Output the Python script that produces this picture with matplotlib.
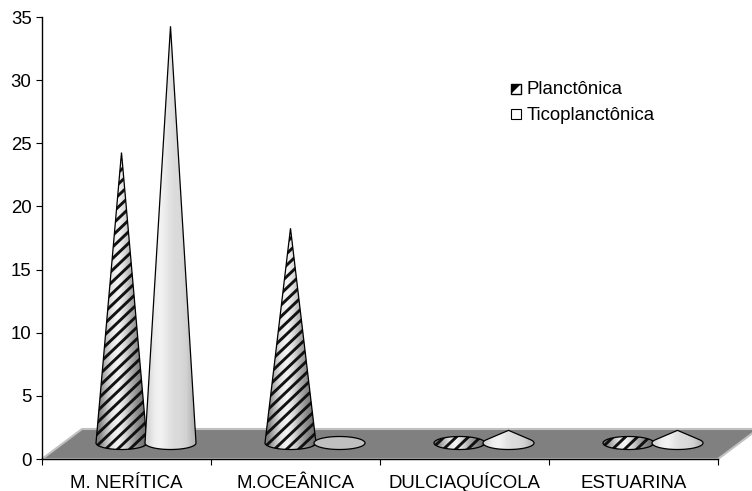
import numpy as np
import matplotlib
matplotlib.use('Agg')
import matplotlib.pyplot as plt
from matplotlib.patches import Polygon, Rectangle

plt.rcParams['font.family'] = ['Liberation Sans', 'DejaVu Sans']

categories = ['M. NERÍTICA', 'M.OCEÂNICA', 'DULCIAQUÍCOLA', 'ESTUARINA']
planctonica = [23, 17, 0, 0]
ticoplanctonica = [33, 0, 1, 1]
yticks = [0, 5, 10, 15, 20, 25, 30, 35]

# pixel layout of the plot area
W, H = 752, 491
LEFT, RIGHT, TOP, BOTTOM = 42, 718, 17, 459
XU = (RIGHT - LEFT) / 4
YU = (BOTTOM - TOP) / 35
DEPTH_X, DEPTH_Y = 40 / XU, 30 / YU
BASE_X, BASE_Y = 19.5 / XU, 16 / YU
CONE_SHIFT = 24.5 / XU
RX, RY = 25.5 / XU, 6.5 / YU

shade_plan = [0.5, 0.72, 0.9, 0.96, 0.85, 0.68, 0.55, 0.45]
shade_tico = [0.84, 0.93, 0.95, 0.9, 0.86, 0.85, 0.82, 0.72]

fig = plt.figure(figsize=(W / 100, H / 100), dpi=100)
ax = fig.add_axes([LEFT / W, 1 - BOTTOM / H, (RIGHT - LEFT) / W, (BOTTOM - TOP) / H])


def cone_outline(cx, cy, height):
    t = np.linspace(0, 2 * np.pi, 120)
    if height <= RY:
        return np.column_stack([cx + RX * np.cos(t), cy + RY * np.sin(t)])
    # tangent points from the apex on to the base ellipse
    s = RY / height
    start = np.arcsin(s)
    t = np.linspace(start, -np.pi - start, 80)
    pts = np.column_stack([cx + RX * np.cos(t), cy + RY * np.sin(t)])
    return np.vstack([[cx, cy + height], pts])


def draw_cone(cx, cy, value, shade, striped, z):
    pts = cone_outline(cx, cy, value)
    edge = Polygon(pts, closed=True, facecolor='none', edgecolor='black', lw=0.9, zorder=z + 0.2)
    ax.add_patch(edge)
    im = ax.imshow([shade], cmap='gray', vmin=0, vmax=1, aspect='auto', interpolation='bilinear',
                   extent=[cx - RX, cx + RX, cy - RY, cy + max(value, RY)], zorder=z)
    im.set_clip_path(edge)
    if striped:
        # diagonal black stripes, rising to the right
        spacing_px = 11.5
        top_px = max(value, RY) * YU + 10
        for off in np.arange(-60, top_px + 60, spacing_px):
            xs = np.array([-40, 40]) / XU
            ys = (off + np.array([-40, 40]) * 0.95) / YU
            ln, = ax.plot(cx + xs, cy + ys, color='#111111', lw=2.1, zorder=z + 0.1, solid_capstyle='butt')
            ln.set_clip_path(edge)


# floor of the 3D chart, it sticks out past the plot area on the right
floor = Polygon([[0, 0], [4, 0], [4 + DEPTH_X, DEPTH_Y], [DEPTH_X, DEPTH_Y]], closed=True,
                facecolor='#808080', edgecolor='#c0c0c0', lw=1.5, clip_on=False, zorder=1)
ax.add_patch(floor)

for i in range(len(categories)):
    cx = i + 0.5 + BASE_X
    draw_cone(cx - CONE_SHIFT, BASE_Y, planctonica[i], shade_plan, True, 3 + i)
    if ticoplanctonica[i] == 0:
        ax.add_patch(Polygon(cone_outline(cx + CONE_SHIFT, BASE_Y, 0), closed=True,
                             facecolor='#c0c0c0', edgecolor='black', lw=0.9, zorder=3.5 + i))
    else:
        draw_cone(cx + CONE_SHIFT, BASE_Y, ticoplanctonica[i], shade_tico, False, 3.5 + i)

ax.set_xlim(0, 4)
ax.set_ylim(0, 35)
ax.patch.set_visible(False)
for s in ['top', 'right']:
    ax.spines[s].set_visible(False)
for s in ['left', 'bottom']:
    ax.spines[s].set_linewidth(1.0)
    ax.spines[s].set_zorder(20)

ax.set_yticks(yticks)
ax.set_xticks(range(5))
ax.set_xticklabels([])
ax.set_xticks([i + 0.5 for i in range(4)], minor=True)
ax.set_xticklabels(categories, minor=True, va='baseline')
ax.tick_params(axis='both', which='major', length=4.5, width=0.8, labelsize=13.4, pad=3, colors='black')
ax.tick_params(axis='x', which='minor', length=0, labelsize=13.4, pad=20.6)

# legend, placed by hand in figure pixels
def fx(x):
    return x / W


def fy(y):
    return 1 - y / H


fig.add_artist(Polygon([[fx(511), fy(84)], [fx(521), fy(84)], [fx(511), fy(94)]], closed=True,
                       facecolor='black', edgecolor='none', transform=fig.transFigure))
fig.add_artist(Rectangle((fx(511), fy(94)), 10 / W, 10 / H, facecolor='none', edgecolor='black', lw=1,
                         transform=fig.transFigure))
fig.add_artist(Rectangle((fx(511), fy(119)), 10 / W, 10 / H, facecolor='white', edgecolor='black', lw=0.8,
                         transform=fig.transFigure))
fig.text(fx(527), fy(90), 'Planctônica', fontsize=13.4, va='center', ha='left')
fig.text(fx(527), fy(115), 'Ticoplanctônica', fontsize=13.4, va='center', ha='left')

fig.savefig('out.png', dpi=100)
